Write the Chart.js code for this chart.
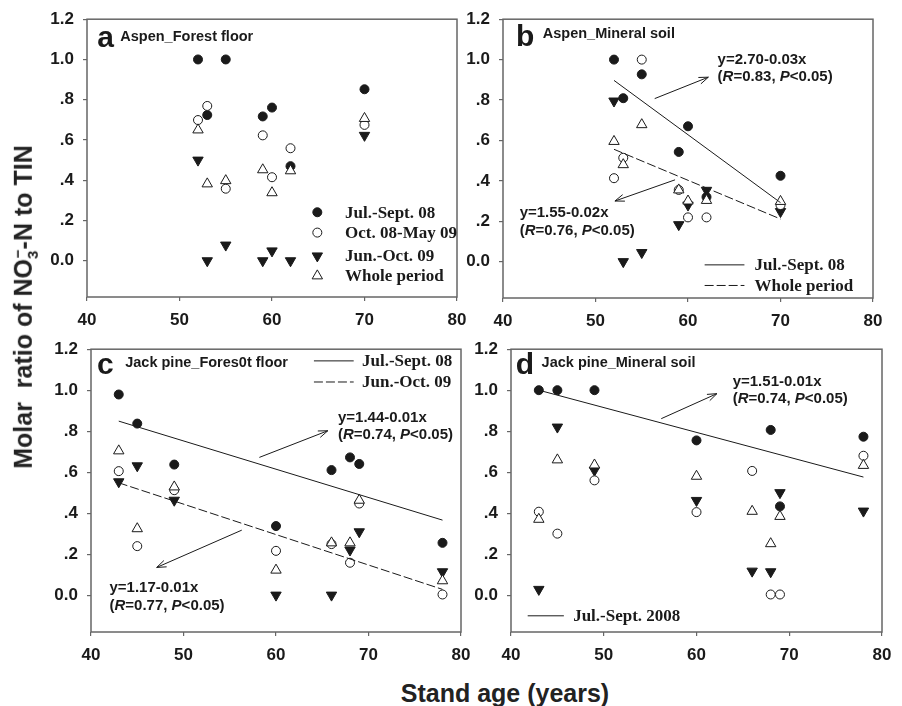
<!DOCTYPE html>
<html>
<head>
<meta charset="utf-8">
<script src="https://cdn.jsdelivr.net/npm/chart.js@4.4.1/dist/chart.umd.min.js"></script>
<style>
  body { margin: 0; background: #fff; width: 902px; height: 706px; position: relative; overflow: hidden;
         font-family: "Liberation Sans", Arial, sans-serif; color: #222; }
  .panel { position: absolute; }
  #ytitle { position: absolute; left: 25px; top: 307px; transform: translate(-50%, -50%) rotate(-90deg);
            font-weight: bold; font-size: 25px; white-space: nowrap; }
  #ytitle sub, #ytitle sup { font-size: 0.6em; }
  #xtitle { position: absolute; left: 505px; top: 693px; transform: translate(-50%, -50%);
            font-weight: bold; font-size: 25px; white-space: nowrap; }
</style>
</head>
<body>
<div class="panel" style="left:0;top:0"><canvas id="pa" width="480" height="340"></canvas></div>
<div class="panel" style="left:440px;top:0"><canvas id="pb" width="462" height="340"></canvas></div>
<div class="panel" style="left:0;top:330px"><canvas id="pc" width="480" height="340"></canvas></div>
<div class="panel" style="left:440px;top:330px"><canvas id="pd" width="462" height="340"></canvas></div>
<div id="ytitle">Molar&nbsp; ratio of NO<sub>3</sub><sup style="margin-left:-0.5em">&minus;</sup>-N to TIN</div>
<div id="xtitle">Stand age (years)</div>

<script>
// ---- data ----
const xTicks = [40, 50, 60, 70, 80];
const yTicks = [0, 0.2, 0.4, 0.6, 0.8, 1.0, 1.2];
const yLabels = ['0.0', '.2', '.4', '.6', '.8', '1.0', '1.2'];

// aspen stands
const aspenAge = [52, 53, 55, 59, 60, 62, 70];
const aJulSep = [1.0, 0.724, 1.0, 0.717, 0.761, 0.47, 0.852];
const aOctMay = [0.699, 0.769, 0.358, 0.623, 0.415, 0.559, 0.675];
const aJunOct = [0.5, 0.0, 0.078, 0.0, 0.049, 0.0, 0.623];
const aWhole  = [0.65, 0.382, 0.398, 0.452, 0.338, 0.447, 0.707];

const bJulSep = [1.0, 0.809, 0.927, 0.543, 0.67, 0.32, 0.425];
const bOctMay = [0.413, 0.514, 1.0, 0.355, 0.219, 0.219, 0.28];
const bJunOct = [0.795, 0.0, 0.045, 0.183, 0.28, 0.353, 0.248];
const bWhole  = [0.595, 0.48, 0.678, 0.355, 0.3, 0.303, 0.298];

// jack pine stands
const pineAge = [43, 45, 49, 60, 66, 68, 69, 78];
const cJulSep = [0.979, 0.837, 0.637, 0.337, 0.61, 0.672, 0.64, 0.255];
const cOctMay = [0.605, 0.239, 0.512, 0.216, 0.249, 0.158, 0.447, 0.003];
const cJunOct = [0.553, 0.631, 0.463, 0.0, 0.0, 0.22, 0.309, 0.114];
const cWhole  = [0.704, 0.324, 0.528, 0.122, 0.255, 0.255, 0.463, 0.07];

const dJulSep = [1.0, 1.0, 1.0, 0.755, null, 0.806, 0.433, 0.773];
const dOctMay = [0.407, 0.3, 0.56, 0.405, 0.606, 0.003, 0.003, 0.68];
const dJunOct = [0.028, 0.82, 0.609, 0.462, 0.117, 0.114, 0.5, 0.41];
const dWhole  = [0.37, 0.66, 0.635, 0.58, 0.409, 0.251, 0.384, 0.633];

// fitted regression lines (end points)
const bFitJul   = [[52, 0.897], [70, 0.292]];
const bFitWhole = [[52, 0.556], [70, 0.211]];
const cFitJul   = [[43, 0.849], [78, 0.366]];
const cFitJun   = [[43, 0.548], [78, 0.028]];
const dFitJul   = [[43, 1.0], [78, 0.576]];

// ---- styling ----
const INK = '#1a1a1a';
const SANS = '"Liberation Sans", Arial, sans-serif';
const SERIF = '"Liberation Serif", "Times New Roman", serif';
const DASH = [9, 3];

const mk = {
  julSep: { pointStyle: 'circle', pointRadius: 4.5, backgroundColor: INK, borderColor: INK, borderWidth: 1 },
  octMay: { pointStyle: 'circle', pointRadius: 4.5, backgroundColor: '#fff', borderColor: INK, borderWidth: 1 },
  junOct: { pointStyle: 'triangle', pointRadius: 6, pointRotation: 180, backgroundColor: INK, borderColor: INK, borderWidth: 1 },
  whole:  { pointStyle: 'triangle', pointRadius: 6, backgroundColor: '#fff', borderColor: INK, borderWidth: 1 }
};

function pts(xs, ys) {
  return xs.map((x, i) => ({ x, y: ys[i] })).filter(p => p.y !== null);
}
function scatter(xs, ys, style) {
  return Object.assign({ data: pts(xs, ys), showLine: false }, style);
}
function fitLine(ends, dashed) {
  return {
    data: ends.map(e => ({ x: e[0], y: e[1] })),
    showLine: true, pointRadius: 0, borderColor: INK, borderWidth: 1,
    borderDash: dashed ? DASH : [], backgroundColor: 'transparent'
  };
}

// draws frame, panel letter, titles, equations, arrows, legends
const decoPlugin = {
  id: 'deco',
  afterDatasetsDraw(chart, args, o) {
    const { ctx, chartArea: ca } = chart;
    const X = v => chart.scales.x.getPixelForValue(v);
    const Y = v => chart.scales.y.getPixelForValue(v);
    ctx.save();
    ctx.strokeStyle = '#666';
    ctx.lineWidth = 1.5;
    ctx.strokeRect(ca.left, ca.top, ca.right - ca.left, ca.bottom - ca.top);

    ctx.fillStyle = INK;
    ctx.textBaseline = 'alphabetic';
    ctx.textAlign = 'left';
    ctx.font = 'bold 30px ' + SANS;
    ctx.fillText(o.letter[0], X(o.letter[1]), Y(o.letter[2]));
    ctx.font = 'bold 14.5px ' + SANS;
    ctx.fillText(o.title[0], X(o.title[1]), Y(o.title[2]));

    // equations
    ctx.textBaseline = 'middle';
    (o.texts || []).forEach(t => {
      let x = X(t.x);
      t.parts.forEach(p => {
        ctx.font = (p[1] === 'i' ? 'italic bold ' : 'bold ') + '15px ' + SANS;
        ctx.fillText(p[0], x, Y(t.y));
        x += ctx.measureText(p[0]).width;
      });
    });

    // arrows
    ctx.strokeStyle = INK;
    ctx.lineWidth = 1;
    (o.arrows || []).forEach(a => {
      const x1 = X(a[0][0]), y1 = Y(a[0][1]), x2 = X(a[1][0]), y2 = Y(a[1][1]);
      const ang = Math.atan2(y2 - y1, x2 - x1);
      ctx.beginPath();
      ctx.moveTo(x1, y1); ctx.lineTo(x2, y2);
      ctx.moveTo(x2 - 10 * Math.cos(ang - 0.35), y2 - 10 * Math.sin(ang - 0.35));
      ctx.lineTo(x2, y2);
      ctx.lineTo(x2 - 10 * Math.cos(ang + 0.35), y2 - 10 * Math.sin(ang + 0.35));
      ctx.stroke();
    });

    // legends
    (o.legend || []).forEach(l => {
      if (l.marker) {
        const s = mk[l.marker];
        ctx.fillStyle = s.backgroundColor;
        ctx.strokeStyle = s.borderColor;
        Chart.helpers.drawPoint(ctx, { pointStyle: s.pointStyle, radius: s.pointRadius, rotation: s.pointRotation || 0, borderWidth: 1 }, X(l.mx), Y(l.y));
      } else {
        ctx.strokeStyle = INK;
        ctx.setLineDash(l.dashed ? DASH : []);
        ctx.beginPath();
        ctx.moveTo(X(l.x1), Y(l.y)); ctx.lineTo(X(l.x2), Y(l.y));
        ctx.stroke();
        ctx.setLineDash([]);
      }
      ctx.fillStyle = INK;
      ctx.font = 'bold 17px ' + SERIF;
      ctx.fillText(l.text, X(l.tx), Y(l.y) + 1);
    });
    ctx.restore();
  }
};

function makePanel(id, area, datasets, deco) {
  const cv = document.getElementById(id);
  const W = cv.width, H = cv.height;
  const tickFont = { family: SANS, size: 17, weight: 'bold' };
  return new Chart(cv, {
    type: 'scatter',
    data: { datasets },
    options: {
      responsive: false,
      animation: false,
      devicePixelRatio: 1,
      layout: { padding: { top: area.t, right: W - area.r, left: 0, bottom: 0 } },
      plugins: { legend: { display: false }, tooltip: { enabled: false }, deco },
      scales: {
        x: {
          type: 'linear', min: 40, max: 80,
          afterBuildTicks: s => { s.ticks = xTicks.map(v => ({ value: v })); },
          afterFit: s => { s.height = H - area.b; },
          ticks: { font: tickFont, color: INK, padding: 9, autoSkip: false, maxRotation: 0, callback: v => String(v) },
          grid: { drawOnChartArea: false, tickLength: 4, color: '#666', lineWidth: 1.2 },
          border: { display: false }
        },
        y: {
          type: 'linear', min: -0.18, max: 1.2,
          afterBuildTicks: s => { s.ticks = yTicks.map(v => ({ value: v })); },
          afterFit: s => { s.width = area.l; },
          ticks: { font: tickFont, color: INK, padding: 9, autoSkip: false, callback: (v, i) => yLabels[i] },
          grid: { drawOnChartArea: false, tickLength: 4, color: '#666', lineWidth: 1.2 },
          border: { display: false }
        }
      }
    },
    plugins: [decoPlugin]
  });
}

function eq(x, y1, y2, formula, r) {
  return [
    { x, y: y1, parts: [[formula, 'b']] },
    { x, y: y2, parts: [['(', 'b'], ['R', 'i'], ['=' + r + ', ', 'b'], ['P', 'i'], ['<0.05)', 'b']] }
  ];
}

// a
makePanel('pa', { l: 87, t: 14, r: 457, b: 297 }, [
  scatter(aspenAge, aWhole, mk.whole),
  scatter(aspenAge, aOctMay, mk.octMay),
  scatter(aspenAge, aJunOct, mk.junOct),
  scatter(aspenAge, aJulSep, mk.julSep)
], {
  letter: ['a', 41.1, 1.06], title: ['Aspen_Forest floor', 43.6, 1.093],
  legend: [
    { marker: 'julSep', mx: 64.9, y: 0.241, text: 'Jul.-Sept. 08', tx: 67.9 },
    { marker: 'octMay', mx: 64.9, y: 0.14, text: 'Oct. 08-May 09', tx: 67.9 },
    { marker: 'junOct', mx: 64.9, y: 0.024, text: 'Jun.-Oct. 09', tx: 67.9 },
    { marker: 'whole', mx: 64.9, y: -0.075, text: 'Whole period', tx: 67.9 }
  ]
});

// b
makePanel('pb', { l: 63, t: 15, r: 433, b: 298 }, [
  fitLine(bFitJul, false),
  fitLine(bFitWhole, true),
  scatter(aspenAge, bWhole, mk.whole),
  scatter(aspenAge, bOctMay, mk.octMay),
  scatter(aspenAge, bJulSep, mk.julSep),
  scatter(aspenAge, bJunOct, mk.junOct)
], {
  letter: ['b', 41.4, 1.065], title: ['Aspen_Mineral soil', 44.3, 1.106],
  texts: [...eq(63.2, 1.0, 0.913, 'y=2.70-0.03x', '0.83'), ...eq(41.8, 0.243, 0.154, 'y=1.55-0.02x', '0.76')],
  arrows: [[[56.4, 0.807], [62.2, 0.913]], [[58.6, 0.405], [52.1, 0.3]]],
  legend: [
    { x1: 61.8, x2: 66.1, y: -0.016, text: 'Jul.-Sept. 08', tx: 67.2 },
    { x1: 61.8, x2: 66.1, y: -0.118, dashed: true, text: 'Whole period', tx: 67.2 }
  ]
});

// c
makePanel('pc', { l: 91, t: 19, r: 461, b: 302 }, [
  fitLine(cFitJul, false),
  fitLine(cFitJun, true),
  scatter(pineAge, cWhole, mk.whole),
  scatter(pineAge, cOctMay, mk.octMay),
  scatter(pineAge, cJunOct, mk.junOct),
  scatter(pineAge, cJulSep, mk.julSep)
], {
  letter: ['c', 40.65, 1.081], title: ['Jack pine_Fores0t floor', 43.7, 1.114],
  texts: [...eq(66.7, 0.867, 0.78, 'y=1.44-0.01x', '0.74'), ...eq(42, 0.033, -0.054, 'y=1.17-0.01x', '0.77')],
  arrows: [[[58.2, 0.672], [65.6, 0.802]], [[56.3, 0.317], [47.1, 0.135]]],
  legend: [
    { x1: 64.1, x2: 68.4, y: 1.143, text: 'Jul.-Sept. 08', tx: 69.3 },
    { x1: 64.1, x2: 68.4, y: 1.04, dashed: true, text: 'Jun.-Oct. 09', tx: 69.3 }
  ]
});

// d
makePanel('pd', { l: 71, t: 18, r: 442, b: 302 }, [
  fitLine(dFitJul, false),
  scatter(pineAge, dWhole, mk.whole),
  scatter(pineAge, dOctMay, mk.octMay),
  scatter(pineAge, dJunOct, mk.junOct),
  scatter(pineAge, dJulSep, mk.julSep)
], {
  letter: ['d', 40.5, 1.078], title: ['Jack pine_Mineral soil', 43.3, 1.114],
  texts: eq(63.9, 1.042, 0.956, 'y=1.51-0.01x', '0.74'),
  arrows: [[[56.2, 0.861], [62.2, 0.983]]],
  legend: [
    { x1: 41.8, x2: 45.7, y: -0.101, text: 'Jul.-Sept. 2008', tx: 46.7 }
  ]
});
</script>
</body>
</html>
